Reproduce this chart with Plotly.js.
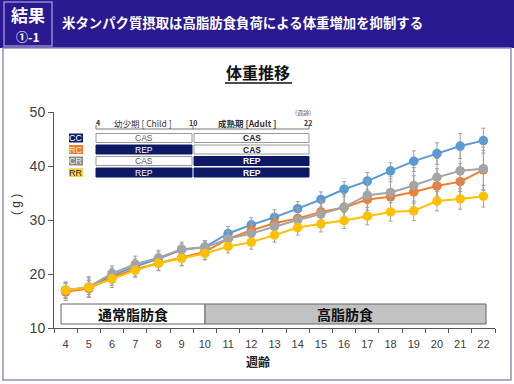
<!DOCTYPE html>
<html><head><meta charset="utf-8">
<script src="https://cdn.plot.ly/plotly-3.0.1.min.js"></script>
<style>html,body{margin:0;padding:0;background:#fff;}#chart{width:514px;height:384px;}</style>
</head><body><div id="chart"></div>
<script>
const weeks = [4,5,6,7,8,9,10,11,12,13,14,15,16,17,18,19,20,21,22];
const seriesNames = ['CC','RC','CR','RR'];
const ccVals = [17.0,17.5,19.7,21.4,22.8,24.5,25.0,27.5,29.1,30.5,32.1,33.8,35.7,37.2,39.1,40.9,42.3,43.7,44.7];
const rcVals = [16.7,17.3,19.4,20.9,22.0,23.0,24.1,26.5,28.1,29.4,30.3,31.5,32.3,33.8,34.3,35.2,36.3,37.1,39.3];
const crVals = [17.0,17.6,20.1,21.8,23.0,24.6,24.9,26.5,27.5,28.8,30.0,31.1,32.4,34.6,35.1,36.4,37.9,39.1,39.5];
const rrVals = [17.0,17.5,19.1,20.7,22.0,22.9,23.8,25.1,25.9,27.2,28.6,29.3,29.9,30.7,31.5,31.7,33.5,33.9,34.4];
const ccErr = [1.5,1.8,1.4,1.4,1.3,1.1,1.1,1.3,1.3,1.4,1.3,1.4,1.4,1.6,1.5,1.9,2.0,2.3,2.3];
const rcErr = [1.6,1.6,1.5,1.3,1.4,1.4,1.4,1.4,1.6,1.8,2.0,2.2,2.4,2.6,2.8,3.0,3.2,3.4,3.6];
const crErr = [1.5,1.9,1.4,1.5,1.4,1.3,1.3,1.4,1.6,1.8,2.0,2.3,2.5,2.8,3.0,3.3,3.5,3.8,4.0];
const rrErr = [1.3,1.3,1.6,1.3,1.3,1.4,1.2,1.2,1.3,1.3,1.4,1.5,1.5,1.6,1.7,1.8,1.8,1.9,2.0];
const yTicks = [10,20,30,40,50];
// inset table
const childDiet = ['CAS','REP','CAS','REP'];
const adultDiet = ['CAS','CAS','REP','REP'];
const periodLabels = ['4','幼少期 [ Child ]','10','成熟期 [Adult ]','22'];
const dietBands = ['通常脂肪食','高脂肪食'];

const colors = {CC:'#5b9bd5', RC:'#ed7d31', CR:'#a5a5a5', RR:'#ffc000'};
const labelBg = {CC:'#10206a', RC:'#f07c2c', CR:'#8a8a8a', RR:'#ffd54a'};
const labelFg = {CC:'#ffffff', RC:'#ffe6d0', CR:'#eeeeee', RR:'#222222'};
const vals = {CC:ccVals, RC:rcVals, CR:crVals, RR:rrVals};
const errs = {CC:ccErr, RC:rcErr, CR:crErr, RR:rrErr};

const W=514,H=384, L=54, R=495, T=112, B=328;
const px = x => (x-L)/(R-L);
const py = y => (B-y)/(B-T);
const JP = '"Noto Sans CJK JP", "Noto Sans", sans-serif';
const AR = '"Liberation Sans", Arial, sans-serif';

const traces = seriesNames.map(n => ({
  x: weeks, y: vals[n], name: n, type:'scatter', mode:'lines+markers',
  line:{color:colors[n], width:2},
  marker:{color:colors[n], size:9.5},
  error_y:{type:'data', array:errs[n], visible:true, color:'#a0a0a0', thickness:1, width:2},
  showlegend:false, hoverinfo:'skip'
}));

const shapes = [];
const ann = [];
function A(x, y, text, font, extra){
  ann.push(Object.assign({xref:'paper', yref:'paper', x:px(x), y:py(y), text:text, showarrow:false,
    xanchor:'center', yanchor:'middle', font:font}, extra||{}));
}
function Rct(x0,y0,x1,y1,fill,line){
  shapes.push({type:'rect', xref:'paper', yref:'paper', x0:px(x0), x1:px(x1), y0:py(y0), y1:py(y1), fillcolor:fill, line:line});
}
function Ln(x0,y0,x1,y1,line){
  shapes.push({type:'line', xref:'paper', yref:'paper', x0:px(x0), x1:px(x1), y0:py(y0), y1:py(y1), line:line});
}
// header banner
Rct(0,0,W,48,'#2a1990',{width:0});
Rct(4,2,52,46,'rgba(0,0,0,0)',{color:'#8e86cf', width:1.5});
// frame
Rct(3,48,511,380,'rgba(0,0,0,0)',{color:'#958eba', width:1.5});
A(28,15,'<b>結果</b>',{family:JP, size:17, color:'#fff'});
A(28,36,'<b>①-1</b>',{family:JP, size:12, color:'#fff'});
A(60,22,'<b>米タンパク質摂取は高脂肪食負荷による体重増加を抑制する</b>',{family:JP, size:13.4, color:'#fff'},{xanchor:'left'});
// chart title
A(258,72,'<b>体重推移</b>',{family:JP, size:16, color:'#111'});
Ln(225,83,292,83,{color:'#111', width:1.5});
// axis titles
A(16,205,'( g )',{family:AR, size:12, color:'#333'},{textangle:-90});
A(258,361,'<b>週齢</b>',{family:JP, size:12, color:'#222'});

// diet bands
Rct(61,304,205,324,'#ffffff',{color:'#666', width:1});
Rct(205,304,486,324,'#c2c2c2',{color:'#666', width:1});
A(133,314,'<b>'+dietBands[0]+'</b>',{family:JP, size:14, color:'#111'});
A(345,314,'<b>'+dietBands[1]+'</b>',{family:JP, size:14, color:'#111'});

// inset table header
A(303,112,'(週齢)',{family:JP, size:6, color:'#666'});
const hdrX = [98,143,193,247,308];
periodLabels.forEach((t,i)=>{
  const bold = (i!==1);
  const sz = (i===1||i===3) ? 8.5 : 7;
  A(hdrX[i],123, bold?'<b>'+t+'</b>':t, {family:JP, size:sz, color:'#333'});
});
Ln(96,129,309,129,{color:'#777', width:1});
[96,193,309].forEach(xx=>Ln(xx,129,xx,125,{color:'#777', width:1}));
const rowY = [138,149.5,161,172.5];
seriesNames.forEach((n,i)=>{
  const yc=rowY[i];
  Rct(69,yc-4.5,83,yc+4.5,labelBg[n],{width:0});
  A(76,yc,n,{family:AR, size:9, color:labelFg[n]});
  [[childDiet[i],96,192,false],[adultDiet[i],194,309,true]].forEach(([d,a,b,bold])=>{
    const rep = d==='REP';
    Rct(a,yc-4.5,b,yc+4.5, rep?'#0c1a66':'#ffffff', {color: rep?'#0c1a66':'#999', width:1});
    A((a+b)/2,yc, bold?'<b>'+d+'</b>':d, {family:AR, size:8.5, color: rep?'#ffffff':(bold?'#222':'#555')});
  });
});

const layout = {
  width:W, height:H, margin:{l:L, r:W-R, t:T, b:H-B},
  paper_bgcolor:'#ffffff', plot_bgcolor:'rgba(0,0,0,0)',
  showlegend:false,
  xaxis:{range:[3.5,22.5], tickvals:weeks, ticktext:weeks.map(String), ticks:'', showgrid:false, zeroline:false,
    showline:true, linecolor:'#555', linewidth:1, tickfont:{family:AR, size:11, color:'#404040'},
    minor:{tick0:3.5, dtick:1, ticks:'outside', ticklen:4, tickcolor:'#555', tickwidth:1, showgrid:false}, ticklabelstandoff:6},
  yaxis:{range:[10,50], tickvals:yTicks, ticks:'outside', ticklen:5, tickcolor:'#555', showgrid:false, zeroline:false,
    showline:true, linecolor:'#555', linewidth:1, tickfont:{family:AR, size:14, color:'#404040'}},
  shapes:shapes, annotations:ann
};
Plotly.newPlot('chart', traces, layout, {staticPlot:true, displayModeBar:false});
</script></body></html>
